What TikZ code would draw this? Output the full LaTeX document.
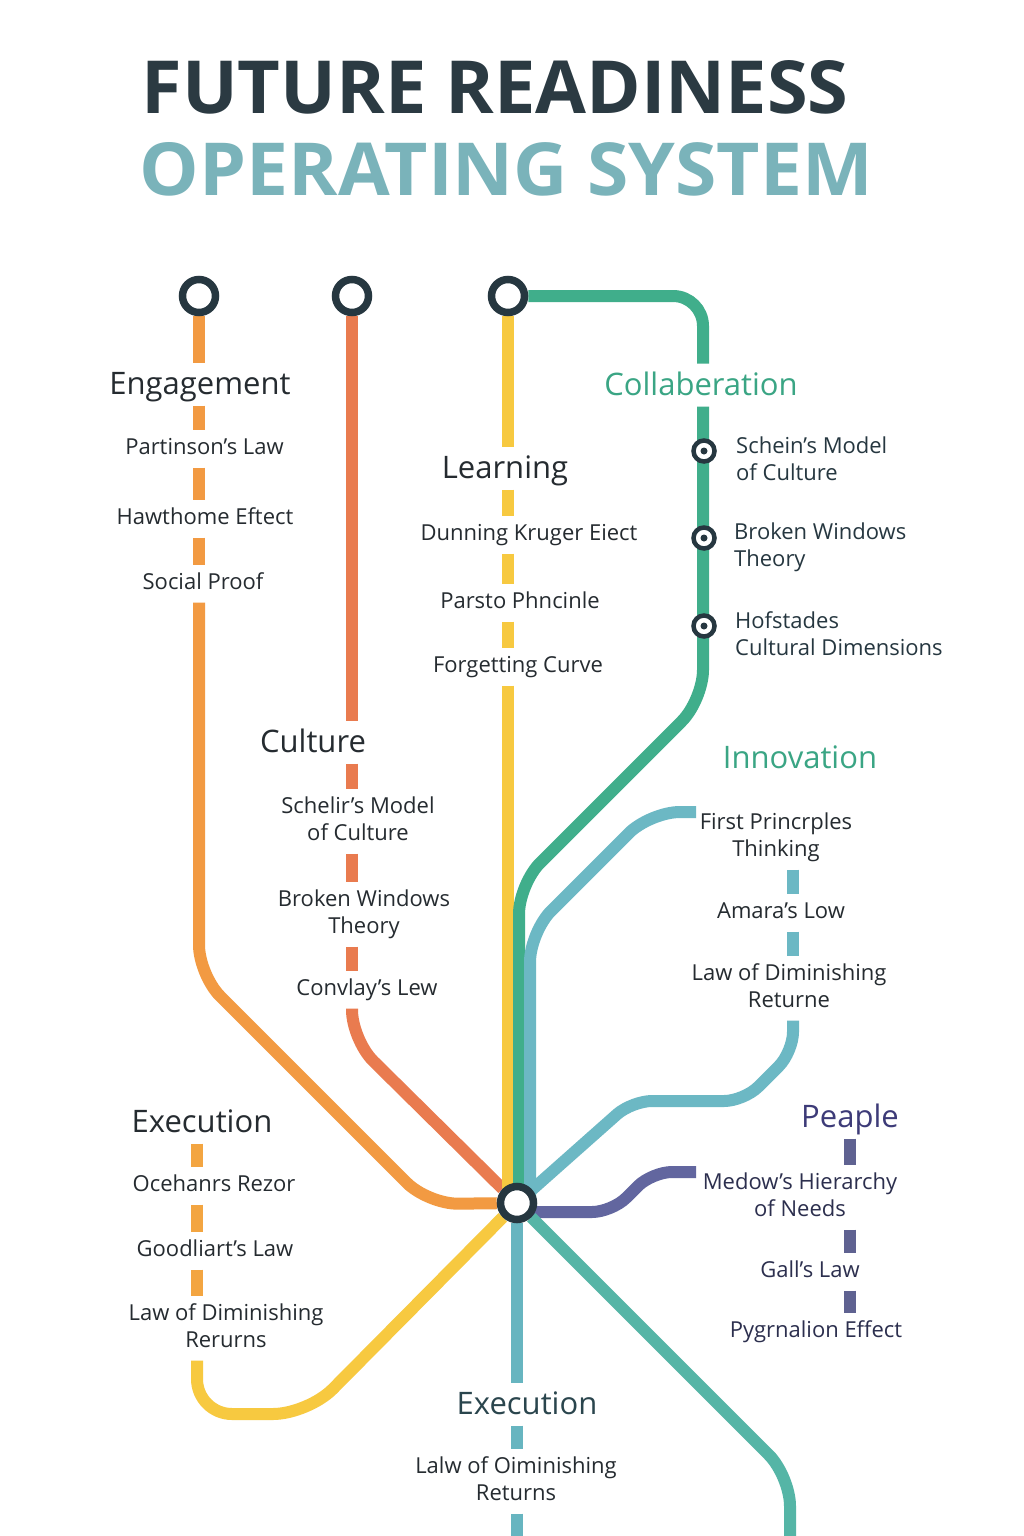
\documentclass[tikz,border=0pt]{standalone}
\usepackage{fontspec}
\setmainfont{Open Sans}
\usetikzlibrary{calc,backgrounds}
\definecolor{engcol}{HTML}{F29A42}
\definecolor{xcol}{HTML}{F3A541}
\definecolor{cultcol}{HTML}{E97B4F}
\definecolor{learncol}{HTML}{F7C940}
\definecolor{collcol}{HTML}{40AE8B}
\definecolor{inncol}{HTML}{6CB8C4}
\definecolor{execcol}{HTML}{67B5C0}
\definecolor{diagcol}{HTML}{55B5A6}
\definecolor{pplcol}{HTML}{62669F}
\definecolor{pplseg}{HTML}{5F6291}
\definecolor{ringdark}{HTML}{263740}
\definecolor{titledark}{HTML}{2B3A42}
\definecolor{titleteal}{HTML}{7AB3BA}
\definecolor{inkdark}{HTML}{252B30}
\definecolor{greenink}{HTML}{3AA584}
\definecolor{purpleink}{HTML}{3D3B78}
\definecolor{navyink}{HTML}{2C2F4E}
\definecolor{tealink}{HTML}{2A454D}
\newcommand\labtxt[1]{\rule{0pt}{25pt}#1\rule[-12.5pt]{0pt}{12.5pt}}
\newcommand\headtxt[1]{\rule{0pt}{32pt}#1\rule[-10.5pt]{0pt}{10.5pt}}

\begin{document}
\begin{tikzpicture}[x=1pt,y=-1pt,
    track/.style={line width=12pt},
    term/.style={circle,draw=ringdark,line width=7.5pt,fill=white,minimum size=33pt,inner sep=0pt},
    station/.style={circle,draw=ringdark,line width=4.5pt,fill=white,minimum size=21pt,inner sep=0pt,
        path picture={\fill[ringdark] (path picture bounding box.center) circle (3.5pt);}},
    hdr/.style={font=\fontsize{31}{36}\selectfont,text=inkdark,inner sep=0pt,anchor=south},
    lbl/.style={font=\fontsize{22}{27}\selectfont,text=inkdark,align=center,inner sep=0pt,anchor=south},
    sidelbl/.style={lbl,align=left,anchor=north west,text=ringdark}]
    \useasboundingbox (0,0) rectangle (1024,1536);

    \node (titleA) at (495,114) [anchor=base,text=titledark]{\resizebox{707pt}{53pt}{\bfseries FUTURE READINESS}};
    \node (titleB) at (506.5,195) [anchor=base,text=titleteal]{\resizebox{733pt}{53pt}{\bfseries OPERATING SYSTEM}};

    \node[term] (engT) at (199,296) {};
    \node[term] (cultT) at (352,296) {};
    \node[term] (learnT) at (508,296) {};
    \node[term] (hub) at (517,1203) {};
    \coordinate (collX) at (703,296);
    \coordinate (innX) at (793,812);
    \coordinate (innEnd) at (696,812);
    \coordinate (pplX) at (850,1172);
    \coordinate (pplEnd) at (696,1172);
    \coordinate (exX) at (197,1414);
    \coordinate (bottomEnd) at (517,1536);
    \coordinate (diagEnd) at (790,1536);

    \node[hdr] (engH) at (200,405.5) {\headtxt{Engagement}};
    \node[lbl] (e1) at (204.5,467.5) {\labtxt{Partinson’s Law}};
    \node[lbl] (e2) at (205,537.5) {\labtxt{Hawthome Eftect}};
    \node[lbl] (e3) at (203,602.5) {\labtxt{Social Proof}};

    \node[hdr] (learnH) at (505,489.5) {\headtxt{Learning}};
    \node[lbl] (l1) at (529,553.5) {\labtxt{Dunning Kruger Eiect}};
    \node[lbl] (l2) at (520,621.5) {\labtxt{Parsto Phncinle}};
    \node[lbl] (l3) at (518,685.5) {\labtxt{Forgetting Curve}};

    \node[hdr] (cultH) at (313,763.5) {\headtxt{Culture}};
    \node[lbl] (c1) at (358,853.5) {\labtxt{Schelir’s Model\\of Culture}};
    \node[lbl] (c2) at (364,946.5) {\labtxt{Broken Windows\\Theory}};
    \node[lbl] (c3) at (367,1008.5) {\labtxt{Convlay’s Lew}};

    \node[hdr,text=greenink] (collH) at (701,406.5) {\headtxt{Collaberation}};
    \node[sidelbl] (s1) at (736,428) {\labtxt{Schein’s Model\\of Culture}};
    \node[sidelbl] (s2) at (734,514) {\labtxt{Broken Windows\\Theory}};
    \node[sidelbl] (s3) at (735,603) {\labtxt{Hofstades\\Cultural Dimensions}};

    \node[hdr,text=greenink] (innH) at (800,779.5) {\headtxt{Innovation}};
    \node[lbl] (i1) at (776,869.5) {\labtxt{First Princrples\\Thinking}};
    \node[lbl] (i2) at (781,931.5) {\labtxt{Amara’s Low}};
    \node[lbl] (i3) at (789,1020.5) {\labtxt{Law of Diminishing\\Returne}};

    \node[hdr,text=purpleink] (pplH) at (850,1138.5) {\headtxt{Peaple}};
    \node[lbl,text=navyink] (p1) at (800,1229.5) {\labtxt{Medow’s Hierarchy\\of Needs}};
    \node[lbl,text=navyink] (p2) at (810,1290.5) {\labtxt{Gall’s Law}};
    \node[lbl,text=navyink] (p3) at (816,1350.5) {\labtxt{Pygrnalion Effect}};

    \node[hdr] (exH) at (202,1143.5) {\headtxt{Execution}};
    \node[lbl] (x1) at (214,1204.5) {\labtxt{Ocehanrs Rezor}};
    \node[lbl] (x2) at (215,1269.5) {\labtxt{Goodliart’s Law}};
    \node[lbl] (x3) at (226,1360.5) {\labtxt{Law of Diminishing\\Rerurns}};

    \node[hdr,text=tealink] (bxH) at (527,1425.5) {\headtxt{Execution}};
    \node[lbl] (b1) at (516,1513.5) {\labtxt{Lalw of Oiminishing\\Returns}};

    \node[station] (st1) at (704,451) {};
    \node[station] (st2) at (704,538) {};
    \node[station] (st3) at (704,626) {};

    \begin{pgfonlayer}{background}
        \fill[white] (0,0) rectangle (1024,1536);
        \foreach \a/\b in {engT/engH,engH/e1,e1/e2,e2/e3}
            \draw[track,engcol] (engT |- \a.south) -- (engT |- \b.north);
        \draw[track,engcol,rounded corners=30pt] (engT |- e3.south) -- (199,975) -- (428,1204) -- (hub);
        \foreach \a/\b in {cultT/cultH,cultH/c1,c1/c2,c2/c3}
            \draw[track,cultcol] (cultT |- \a.south) -- (cultT |- \b.north);
        \draw[track,cultcol,rounded corners=30pt] (cultT |- c3.south) -- (352,1040) -- (hub);
        \foreach \a/\b in {learnT/learnH,learnH/l1,l1/l2,l2/l3}
            \draw[track,learncol] (learnT |- \a.south) -- (learnT |- \b.north);
        \draw[track,learncol] (learnT |- l3.south) -- (learnT |- hub);
        \draw[track,collcol,rounded corners=30pt] (learnT) -- (collX) -- (collX |- collH.north);
        \draw[track,collcol,rounded corners=30pt] (collX |- collH.south) -- (703,700) -- (519,884) -- (519,1203);
        \draw[track,inncol,rounded corners=30pt] (innEnd) -- (650,812) -- (530,932) -- (530,1203);
        \foreach \a/\b in {i1/i2,i2/i3}
            \draw[track,inncol] (innX |- \a.south) -- (innX |- \b.north);
        \draw[track,inncol,rounded corners=20pt] (innX |- i3.south) -- (793,1052) -- (744,1101) -- (632,1101) -- (hub);
        \draw[track,pplcol,rounded corners=20pt] ($(hub)+(0,9)$) -- (612,1212) -- (652,1172) -- (pplEnd);
        \foreach \a/\b in {pplH/p1,p1/p2,p2/p3}
            \draw[track,pplseg] (pplX |- \a.south) -- (pplX |- \b.north);
        \foreach \a/\b in {exH/x1,x1/x2,x2/x3}
            \draw[track,xcol] (exX |- \a.south) -- (exX |- \b.north);
        \draw[track,learncol,rounded corners=35pt] (exX |- x3.south) -- (exX) -- (308,1414) -- (hub);
        \draw[track,execcol] (hub) -- (hub |- bxH.north);
        \draw[track,execcol] (hub |- bxH.south) -- (hub |- b1.north);
        \draw[track,execcol] (hub |- b1.south) -- (bottomEnd);
        \draw[track,diagcol,rounded corners=30pt] (hub) -- (790,1476) -- (diagEnd);
    \end{pgfonlayer}
\end{tikzpicture}
\end{document}
